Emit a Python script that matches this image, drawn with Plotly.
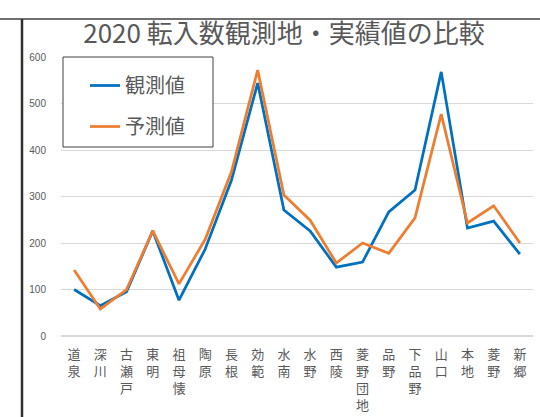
import plotly.graph_objects as go

categories = ["道泉", "深川", "古瀬戸", "東明", "祖母懐", "陶原", "長根", "効範", "水南",
              "水野", "西陵", "菱野団地", "品野", "下品野", "山口", "本地", "菱野", "新郷"]
observed = [100, 65, 95, 226, 77, 187, 335, 544, 271, 226, 148, 159, 267, 314, 568, 232, 247, 176]
predicted = [142, 58, 100, 226, 112, 208, 353, 572, 303, 249, 157, 200, 178, 254, 477, 243, 280, 200]
y_ticks = [0, 100, 200, 300, 400, 500, 600]

labels = ["<br>".join(list(c)) for c in categories]

FONT = "Noto Sans CJK JP"
LABEL_FONT = "Liberation Sans, Noto Sans CJK JP"
GRAY = "#595959"

fig = go.Figure()
fig.add_trace(go.Scatter(x=labels, y=observed, mode="lines", name="観測値",
                         legendgroup="a",
                         line=dict(color="#0070C0", width=2.75)))
fig.add_trace(go.Scatter(x=labels, y=predicted, mode="lines", name="予測値",
                         legendgroup="b",
                         line=dict(color="#ED7D31", width=2.75)))

W, H = 540, 417
L, R, T, B = 61, 7, 57, 81
pw = W - L - R
ph = H - T - B

def px(xp):
    return (xp - L) / pw

def py(yp):
    return (H - B - yp) / ph

fig.update_layout(
    width=W, height=H,
    margin=dict(l=L, r=R, t=T, b=B, autoexpand=False),
    paper_bgcolor="white", plot_bgcolor="white",
    font=dict(family=FONT, color=GRAY),
    title=dict(text="2020 転入数観測地・実績値の比較", x=284 / W, xanchor="center",
               y=1 - 34 / H, yanchor="middle",
               font=dict(family=FONT, size=26, color=GRAY)),
    showlegend=True,
    legend=dict(x=px(85), y=py(66), xanchor="left", yanchor="top",
                bgcolor="rgba(0,0,0,0)", borderwidth=0,
                font=dict(family=FONT, size=20, color=GRAY),
                tracegroupgap=12, itemwidth=30),
    xaxis=dict(type="category", range=[-0.5, len(categories) - 0.5],
               showgrid=False, showline=False, ticks="",
               tickangle=0, tickfont=dict(family=LABEL_FONT, size=13, color=GRAY),
               ticklabelstandoff=9, automargin=False, fixedrange=True),
    yaxis=dict(range=[0, 600], tickvals=y_ticks, showgrid=True, gridcolor="#d9d9d9",
               gridwidth=1, zeroline=True, zerolinecolor="#d9d9d9", zerolinewidth=2,
               showline=False, ticks="outside", ticklen=12, tickcolor="rgba(0,0,0,0)",
               tickfont=dict(family="Liberation Sans", size=10, color=GRAY),
               automargin=False, fixedrange=True),
    shapes=[
        dict(type="rect", xref="paper", yref="paper",
             x0=px(63), x1=px(213), y0=py(147), y1=py(57),
             fillcolor="white", line=dict(color="#404040", width=1), layer="above"),
        dict(type="line", xref="paper", yref="paper",
             x0=px(0), x1=px(540), y0=py(19), y1=py(19),
             line=dict(color="#404040", width=1.5)),
        dict(type="line", xref="paper", yref="paper",
             x0=px(22), x1=px(22), y0=py(19), y1=py(417),
             line=dict(color="#303030", width=2.5)),
    ],
)

fig.write_html("out.html", config={"displayModeBar": False},
               post_script="document.body.style.margin='0';document.body.style.padding='0';")
